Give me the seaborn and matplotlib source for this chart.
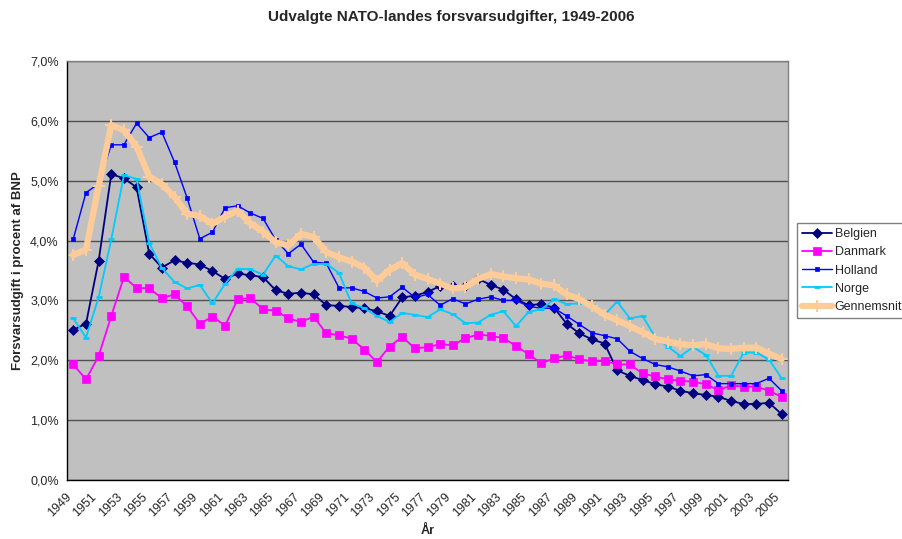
import matplotlib
matplotlib.use("Agg")
import matplotlib.pyplot as plt
import matplotlib.transforms as mtransforms
import seaborn as sns
import pandas as pd
from matplotlib.ticker import FixedLocator, FuncFormatter

# Data, 1949-2005
years = list(range(1949, 2006))

belgien = [2.51, 2.61, 3.66, 5.11, 5.04, 4.89, 3.78, 3.55, 3.67, 3.63,
           3.60, 3.49, 3.36, 3.45, 3.42, 3.39, 3.17, 3.11, 3.13, 3.10,
           2.92, 2.91, 2.89, 2.87, 2.82, 2.74, 3.05, 3.08, 3.14, 3.24,
           3.24, 3.24, 3.36, 3.26, 3.18, 3.02, 2.92, 2.94, 2.88, 2.61,
           2.45, 2.35, 2.28, 1.83, 1.74, 1.67, 1.60, 1.56, 1.49, 1.45,
           1.42, 1.39, 1.32, 1.27, 1.27, 1.29, 1.10]
danmark = [1.93, 1.68, 2.07, 2.74, 3.39, 3.21, 3.20, 3.04, 3.10, 2.90,
           2.61, 2.73, 2.58, 3.02, 3.04, 2.85, 2.83, 2.70, 2.64, 2.73,
           2.45, 2.42, 2.36, 2.18, 1.97, 2.23, 2.39, 2.20, 2.22, 2.27,
           2.25, 2.37, 2.43, 2.41, 2.37, 2.24, 2.10, 1.95, 2.03, 2.08,
           2.02, 1.98, 1.99, 1.93, 1.93, 1.78, 1.73, 1.68, 1.66, 1.64,
           1.60, 1.50, 1.58, 1.56, 1.56, 1.49, 1.39]
holland = [4.03, 4.80, 4.95, 5.60, 5.60, 5.96, 5.72, 5.81, 5.31, 4.71,
           4.03, 4.14, 4.55, 4.58, 4.46, 4.37, 4.01, 3.78, 3.94, 3.64,
           3.62, 3.21, 3.21, 3.15, 3.04, 3.06, 3.22, 3.05, 3.10, 2.92,
           3.03, 2.94, 3.02, 3.06, 3.00, 3.00, 2.90, 2.87, 2.87, 2.74,
           2.60, 2.46, 2.41, 2.36, 2.15, 2.03, 1.93, 1.89, 1.82, 1.74,
           1.76, 1.61, 1.61, 1.61, 1.61, 1.70, 1.49]
norge = [2.70, 2.38, 3.05, 4.02, 5.09, 5.03, 3.96, 3.54, 3.31, 3.20,
         3.26, 2.95, 3.28, 3.53, 3.52, 3.43, 3.75, 3.57, 3.52, 3.61,
         3.61, 3.46, 2.95, 2.87, 2.74, 2.64, 2.79, 2.76, 2.72, 2.85,
         2.77, 2.62, 2.63, 2.76, 2.82, 2.57, 2.81, 2.85, 3.02, 2.94,
         2.95, 2.92, 2.76, 2.98, 2.70, 2.74, 2.39, 2.23, 2.07, 2.22,
         2.09, 1.74, 1.74, 2.13, 2.13, 2.01, 1.70]
gennemsnit = [3.76, 3.85, 4.91, 5.93, 5.84, 5.57, 5.07, 4.94, 4.73, 4.45,
              4.41, 4.28, 4.40, 4.50, 4.29, 4.15, 3.97, 3.92, 4.11, 4.06,
              3.81, 3.72, 3.65, 3.55, 3.33, 3.51, 3.62, 3.43, 3.36, 3.28,
              3.20, 3.22, 3.36, 3.44, 3.40, 3.37, 3.35, 3.28, 3.25, 3.10,
              3.02, 2.90, 2.76, 2.67, 2.57, 2.47, 2.36, 2.31, 2.27, 2.25,
              2.27, 2.20, 2.19, 2.21, 2.21, 2.11, 2.02]

lande = ["Belgien", "Danmark", "Holland", "Norge", "Gennemsnit"]

df = pd.DataFrame({"year": years, "Belgien": belgien, "Danmark": danmark,
                   "Holland": holland, "Norge": norge, "Gennemsnit": gennemsnit})
long = df.melt(id_vars="year", var_name="land", value_name="pct")

sns.set_style("white")
plt.rcParams['font.family'] = ['Liberation Sans', 'DejaVu Sans']

styles = {
    "Belgien":    dict(color="#000080", marker="D", markersize=5, lw=1.3, mew=0.5),
    "Danmark":    dict(color="#FF00FF", marker="s", markersize=5.5, lw=1.3, mew=0.5),
    "Holland":    dict(color="#0000FF", marker="s", markersize=2.2, lw=1.0, mew=0.5),
    "Norge":      dict(color="#00CCFF", marker="_", markersize=5, lw=1.3, mew=2),
    "Gennemsnit": dict(color="#FFCC99", marker="+", markersize=9, lw=4.5, mew=1.5),
}

fig = plt.figure(figsize=(9.02, 5.39), dpi=100)
ax = fig.add_axes([67 / 902, 1 - 480 / 539, (788 - 67) / 902, (480 - 61) / 539])
ax.set_facecolor("#C0C0C0")

for land in lande:
    st = styles[land]
    sub = long[long["land"] == land]
    sns.lineplot(data=sub, x="year", y="pct", ax=ax, label=land,
                 color=st["color"], marker=st["marker"], markersize=st["markersize"],
                 linewidth=st["lw"], markeredgecolor=st["color"],
                 markeredgewidth=st["mew"], markerfacecolor=st["color"])

ax.set_xlim(1948.5, 2005.5)
ax.set_ylim(0, 7)

# y axis
ax.yaxis.set_major_locator(FixedLocator(range(0, 8)))
ax.yaxis.set_major_formatter(FuncFormatter(lambda v, p: f"{v:.1f}%".replace(".", ",")))
ax.yaxis.grid(True, color="#505050", lw=1.0)
ax.set_axisbelow(True)

# x axis: labels every second year, tick marks between categories
ax.xaxis.set_major_locator(FixedLocator(years[::2]))
ax.set_xticklabels([str(y) for y in years[::2]], rotation=45, ha="right",
                   rotation_mode="anchor")
ax.xaxis.set_minor_locator(FixedLocator([y - 0.5 for y in years] + [2005.5]))
ax.tick_params(axis="x", which="major", length=0, pad=7, labelsize=9)
ax.tick_params(axis="x", which="minor", length=4, width=1, color="black",
               direction="out")
ax.tick_params(axis="y", which="major", length=4, width=1, color="black",
               direction="out", labelsize=9, pad=2)
shift = mtransforms.ScaledTranslation(-8 / 100, -1 / 100, fig.dpi_scale_trans)
for lbl in ax.get_xticklabels():
    lbl.set_transform(lbl.get_transform() + shift)

for side in ["left", "bottom"]:
    ax.spines[side].set_color("black")
    ax.spines[side].set_linewidth(1.0)
for side in ["top", "right"]:
    ax.spines[side].set_color("#808080")
    ax.spines[side].set_linewidth(1.0)

ax.set_xlabel("År", fontsize=9, fontweight="bold", labelpad=4)
ax.set_ylabel("Forsvarsudgift i procent af BNP", fontsize=9.5, fontweight="bold",
              labelpad=4)
fig.suptitle("Udvalgte NATO-landes forsvarsudgifter, 1949-2006", x=0.5,
             y=1 - 17 / 539, va="center", fontsize=11, fontweight="bold")

handles, labels = ax.get_legend_handles_labels()
ax.get_legend().remove()
fig.legend(handles, labels, loc="upper left", bbox_to_anchor=(797 / 902, 1 - 223 / 539),
           frameon=True, fancybox=False, edgecolor="#808080", framealpha=1,
           fontsize=9, handlelength=2.4, borderpad=0.4, labelspacing=0.5,
           handletextpad=0.2, borderaxespad=0)

fig.savefig("out.png", dpi=100)
